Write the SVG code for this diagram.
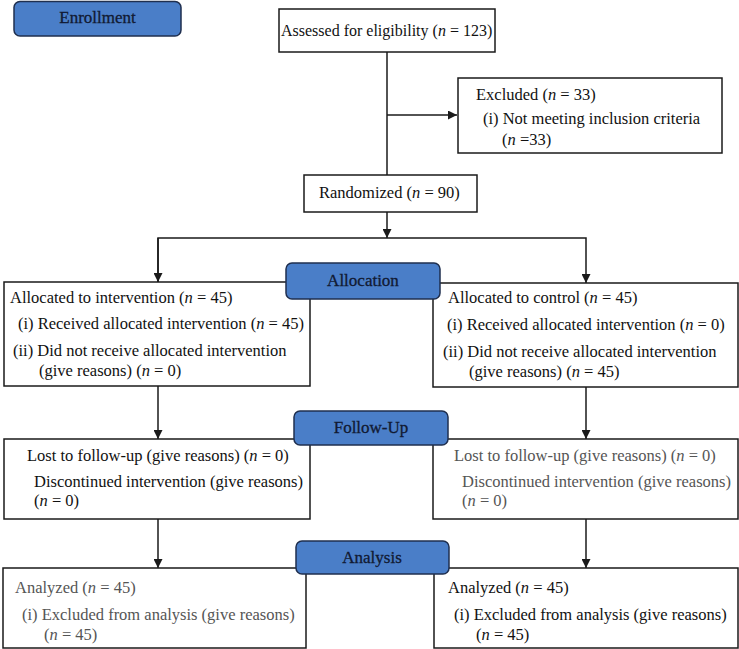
<svg xmlns="http://www.w3.org/2000/svg" width="739" height="649" viewBox="0 0 739 649">
<defs>
<marker id="ah" viewBox="0 0 10 10" refX="10" refY="5" markerWidth="9" markerHeight="9" markerUnits="userSpaceOnUse" orient="auto">
<path d="M0,0 L10,5 L0,10 z" fill="#1a1a1a"/>
</marker>
<style>
.box{fill:#fff;stroke:#1a1a1a;stroke-width:1.5}
.lbl{fill:#4a7ec8;stroke:#1f2f4f;stroke-width:1.5}
.lt{font-family:"Liberation Serif",serif;font-size:17px;fill:#111a33;text-anchor:middle;stroke:#111a33;stroke-width:0.3}
.t{font-family:"Liberation Serif",serif;font-size:16.5px;fill:#111}
.g{fill:#555}
.ln{stroke:#1a1a1a;stroke-width:1.5;fill:none}
</style>
</defs>
<rect width="739" height="649" fill="#fff"/>
<g id="connectors">
<line class="ln" x1="387" y1="52" x2="387" y2="175"/>
<line class="ln" x1="387" y1="115" x2="457" y2="115" marker-end="url(#ah)"/>
<line class="ln" x1="387" y1="212" x2="387" y2="238" marker-end="url(#ah)"/>
<polyline class="ln" points="158,282 158,238 586,238 586,283" marker-end="url(#ah)"/>
<line class="ln" x1="158" y1="238" x2="158" y2="282" marker-end="url(#ah)"/>
<line class="ln" x1="158" y1="386" x2="158" y2="439" marker-end="url(#ah)"/>
<line class="ln" x1="586" y1="387" x2="586" y2="439" marker-end="url(#ah)"/>
<line class="ln" x1="158" y1="519" x2="158" y2="568" marker-end="url(#ah)"/>
<line class="ln" x1="586" y1="519" x2="586" y2="568" marker-end="url(#ah)"/>
</g>
<g id="enrollment"><rect class="lbl" x="14" y="1.5" width="167" height="34.5" rx="6"/><text class="lt" x="97.5" y="23">Enrollment</text></g>
<g id="assessed"><rect class="box" x="279" y="9" width="216" height="43"/><text class="t" x="281" y="36" font-size="16px" style="font-size:16px">Assessed for eligibility (<tspan font-style="italic">n</tspan> = 123)</text></g>
<g id="excluded"><rect class="box" x="458" y="78" width="264" height="75"/>
<text class="t" x="476" y="100">Excluded (<tspan font-style="italic">n</tspan> = 33)</text>
<text class="t" x="483" y="124">(i) Not meeting inclusion criteria</text>
<text class="t" x="502" y="145">(<tspan font-style="italic">n</tspan> =33)</text></g>
<g id="randomized"><rect class="box" x="304" y="175" width="173" height="37"/><text class="t" x="319" y="198">Randomized (<tspan font-style="italic">n</tspan> = 90)</text></g>
<g id="alloc-intervention"><rect class="box" x="4" y="282" width="306" height="104"/>
<text class="t" x="10" y="303">Allocated to intervention (<tspan font-style="italic">n</tspan> = 45)</text>
<text class="t" x="18" y="329">(i) Received allocated intervention (<tspan font-style="italic">n</tspan> = 45)</text>
<text class="t" x="13" y="356">(ii) Did not receive allocated intervention</text>
<text class="t" x="39" y="376">(give reasons) (<tspan font-style="italic">n</tspan> = 0)</text></g>
<g id="alloc-control"><rect class="box" x="433" y="283" width="305" height="104"/>
<text class="t" x="448" y="303">Allocated to control (<tspan font-style="italic">n</tspan> = 45)</text>
<text class="t" x="447" y="330">(i) Received allocated intervention (<tspan font-style="italic">n</tspan> = 0)</text>
<text class="t" x="443" y="357">(ii) Did not receive allocated intervention</text>
<text class="t" x="469" y="377">(give reasons) (<tspan font-style="italic">n</tspan> = 45)</text></g>
<g id="allocation"><rect class="lbl" x="286" y="263" width="154" height="36" rx="6"/><text class="lt" x="363" y="286">Allocation</text></g>
<g id="followup-left"><rect class="box" x="4" y="439" width="306" height="80"/>
<text class="t" x="27" y="461">Lost to follow-up (give reasons) (<tspan font-style="italic">n</tspan> = 0)</text>
<text class="t" x="34" y="487">Discontinued intervention (give reasons)</text>
<text class="t" x="34" y="506">(<tspan font-style="italic">n</tspan> = 0)</text></g>
<g id="followup-right"><rect class="box" x="433" y="439" width="305" height="80"/>
<text class="t g" x="454" y="461">Lost to follow-up (give reasons) (<tspan font-style="italic">n</tspan> = 0)</text>
<text class="t g" x="462" y="487">Discontinued intervention (give reasons)</text>
<text class="t g" x="462" y="506">(<tspan font-style="italic">n</tspan> = 0)</text></g>
<g id="followup"><rect class="lbl" x="294" y="411" width="154" height="34" rx="6"/><text class="lt" x="371" y="433">Follow-Up</text></g>
<g id="analysis-left"><rect class="box" x="3" y="568" width="303" height="80"/>
<text class="t g" x="15" y="593">Analyzed (<tspan font-style="italic">n</tspan> = 45)</text>
<text class="t g" x="22" y="620">(i) Excluded from analysis (give reasons)</text>
<text class="t g" x="44" y="640">(<tspan font-style="italic">n</tspan> = 45)</text></g>
<g id="analysis-right"><rect class="box" x="434" y="568" width="304" height="80"/>
<text class="t" x="448" y="593">Analyzed (<tspan font-style="italic">n</tspan> = 45)</text>
<text class="t" x="454" y="620">(i) Excluded from analysis (give reasons)</text>
<text class="t" x="476" y="640">(<tspan font-style="italic">n</tspan> = 45)</text></g>
<g id="analysis"><rect class="lbl" x="296" y="541" width="153" height="33" rx="6"/><text class="lt" x="372" y="563">Analysis</text></g>
</svg>
